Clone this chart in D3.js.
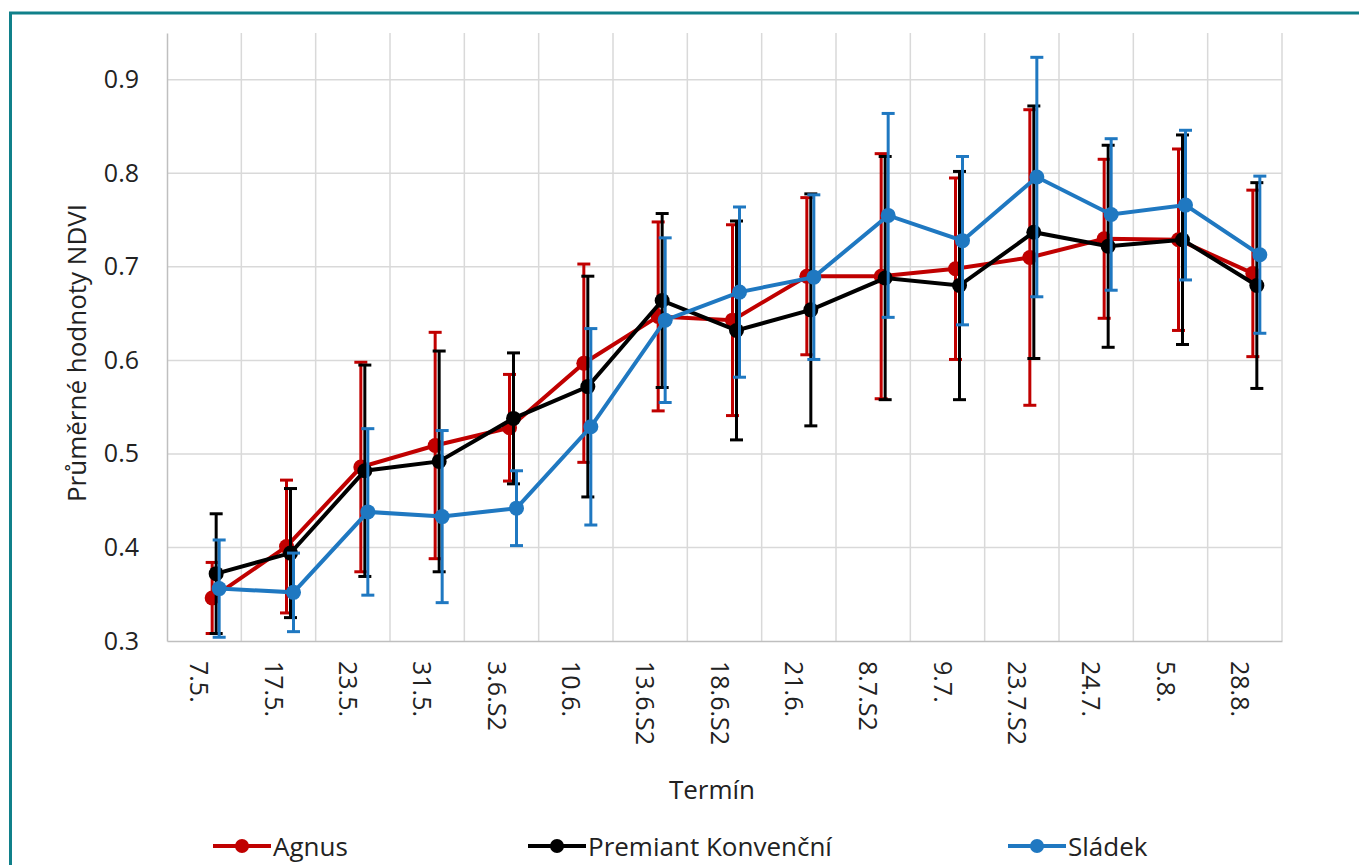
<!DOCTYPE html>
<html><head><meta charset="utf-8">
<script src="https://cdn.jsdelivr.net/npm/d3@7"></script>
<style>body{margin:0;background:#fff} svg{display:block}</style>
</head><body><svg id="c" width="1359" height="865"></svg>
<script>
const categories = ["7.5.","17.5.","23.5.","31.5.","3.6.S2","10.6.","13.6.S2","18.6.S2","21.6.","8.7.S2","9.7.","23.7.S2","24.7.","5.8.","28.8."];
const seriesNames = ["Agnus","Premiant Konvenční","Sládek"];
const agnus = [0.346,0.401,0.486,0.509,0.528,0.597,0.647,0.643,0.690,0.690,0.698,0.710,0.730,0.729,0.693];
const agnusErr = [0.038,0.071,0.112,0.121,0.057,0.106,0.101,0.102,0.084,0.131,0.097,0.158,0.085,0.097,0.089];
const premiant = [0.372,0.394,0.482,0.492,0.538,0.572,0.664,0.632,0.654,0.688,0.680,0.737,0.722,0.729,0.680];
const premiantErr = [0.064,0.069,0.113,0.118,0.070,0.118,0.093,0.117,0.124,0.130,0.122,0.135,0.108,0.112,0.110];
const sladek = [0.356,0.352,0.438,0.433,0.442,0.529,0.643,0.673,0.689,0.755,0.728,0.796,0.756,0.766,0.713];
const sladekErr = [0.052,0.042,0.089,0.092,0.040,0.105,0.088,0.091,0.088,0.109,0.090,0.128,0.081,0.080,0.084];
const yTicks = [0.3,0.4,0.5,0.6,0.7,0.8,0.9];
const yTitle = "Průměrné hodnoty NDVI";
const xTitle = "Termín";

const colors = ["#C00000","#000000","#1F78C1"];
const offsets = [8, 12, 15];
const values = [agnus, premiant, sladek];
const errs = [agnusErr, premiantErr, sladekErr];

const svg = d3.select("#c");
const L = 167, R = 1282, T = 33, B = 641;
const x = d3.scaleBand().domain(categories).range([L, R]).paddingInner(0).paddingOuter(0);
const y = d3.scaleLinear().domain([0.3, 0.95]).range([B, T]);

// frame border
svg.append("rect").attr("x",10.5).attr("y",13).attr("width",1400).attr("height",900)
  .attr("fill","none").attr("stroke","#10808A").attr("stroke-width",3);

// gridlines
const g = svg.append("g");
g.selectAll("line.h").data(yTicks.slice(1)).join("line")
  .attr("x1",L).attr("x2",R).attr("y1",d=>y(d)).attr("y2",d=>y(d))
  .attr("stroke","#d9d9d9").attr("stroke-width",1.5);
const bounds = categories.map(c=>x(c)+x.bandwidth());
g.selectAll("line.v").data(bounds).join("line")
  .attr("x1",d=>d).attr("x2",d=>d).attr("y1",T).attr("y2",B)
  .attr("stroke","#d9d9d9").attr("stroke-width",1.5);

// axes
const yAxis = svg.append("g").attr("transform",`translate(${L},0)`)
  .call(d3.axisLeft(y).tickValues(yTicks).tickFormat(d3.format(".1f")).tickSize(0).tickPadding(28));
yAxis.select(".domain").attr("stroke","#bfbfbf").attr("stroke-width",1.5);
yAxis.selectAll("text").attr("font-family","Open Sans").attr("font-size",25).attr("fill","#222");

const xAxis = svg.append("g").attr("transform",`translate(0,${B})`)
  .call(d3.axisBottom(x).tickSize(0).tickPadding(0));
xAxis.select(".domain").attr("stroke","#bfbfbf").attr("stroke-width",1.5);
xAxis.selectAll("text")
  .attr("font-family","Open Sans").attr("font-size",25).attr("fill","#222")
  .attr("text-anchor","start").attr("dy",null).attr("y",0)
  .attr("transform","translate(-4,20) rotate(90)")
  .attr("dominant-baseline","central");

// series
values.forEach((vals, si) => {
  const col = colors[si];
  const sg = svg.append("g");
  const px = i => x(categories[i]) + x.bandwidth()/2 + offsets[si];
  const eb = sg.selectAll("g.eb").data(vals).join("g");
  eb.append("line").attr("x1",(d,i)=>px(i)).attr("x2",(d,i)=>px(i))
    .attr("y1",(d,i)=>y(d+errs[si][i])).attr("y2",(d,i)=>y(d-errs[si][i]))
    .attr("stroke",col).attr("stroke-width",3);
  [1,-1].forEach(s=>{
    eb.append("line").attr("x1",(d,i)=>px(i)-6.5).attr("x2",(d,i)=>px(i)+6.5)
      .attr("y1",(d,i)=>y(d+s*errs[si][i])).attr("y2",(d,i)=>y(d+s*errs[si][i]))
      .attr("stroke",col).attr("stroke-width",3);
  });
  sg.append("path").datum(vals)
    .attr("d", d3.line().x((d,i)=>px(i)).y(d=>y(d)))
    .attr("fill","none").attr("stroke",col).attr("stroke-width",4);
  sg.selectAll("circle").data(vals).join("circle")
    .attr("cx",(d,i)=>px(i)).attr("cy",d=>y(d)).attr("r",7.5).attr("fill",col);
});

// titles
svg.append("text").attr("transform",`translate(86,${(T+B)/2+16}) rotate(-90)`)
  .attr("text-anchor","middle").attr("font-family","Open Sans").attr("font-size",26).attr("fill","#222")
  .text(yTitle);
const font2 = "'Open Sans', sans-serif";
svg.append("text").attr("x",712).attr("y",799).attr("text-anchor","middle")
  .attr("font-family",font2).attr("font-size",26).attr("fill","#222").text(xTitle);

// legend
const legX = [213, 528, 1008];
seriesNames.forEach((n, si) => {
  const lg = svg.append("g").attr("transform",`translate(${legX[si]},846)`);
  lg.append("line").attr("x1",0).attr("x2",58).attr("y1",0).attr("y2",0)
    .attr("stroke",colors[si]).attr("stroke-width",4);
  lg.append("circle").attr("cx",29).attr("cy",0).attr("r",7).attr("fill",colors[si]);
  lg.append("text").attr("x",60).attr("y",0).attr("dominant-baseline","central")
    .attr("font-family",font2).attr("font-size",26).attr("fill","#222").text(n);
});
</script></body></html>
